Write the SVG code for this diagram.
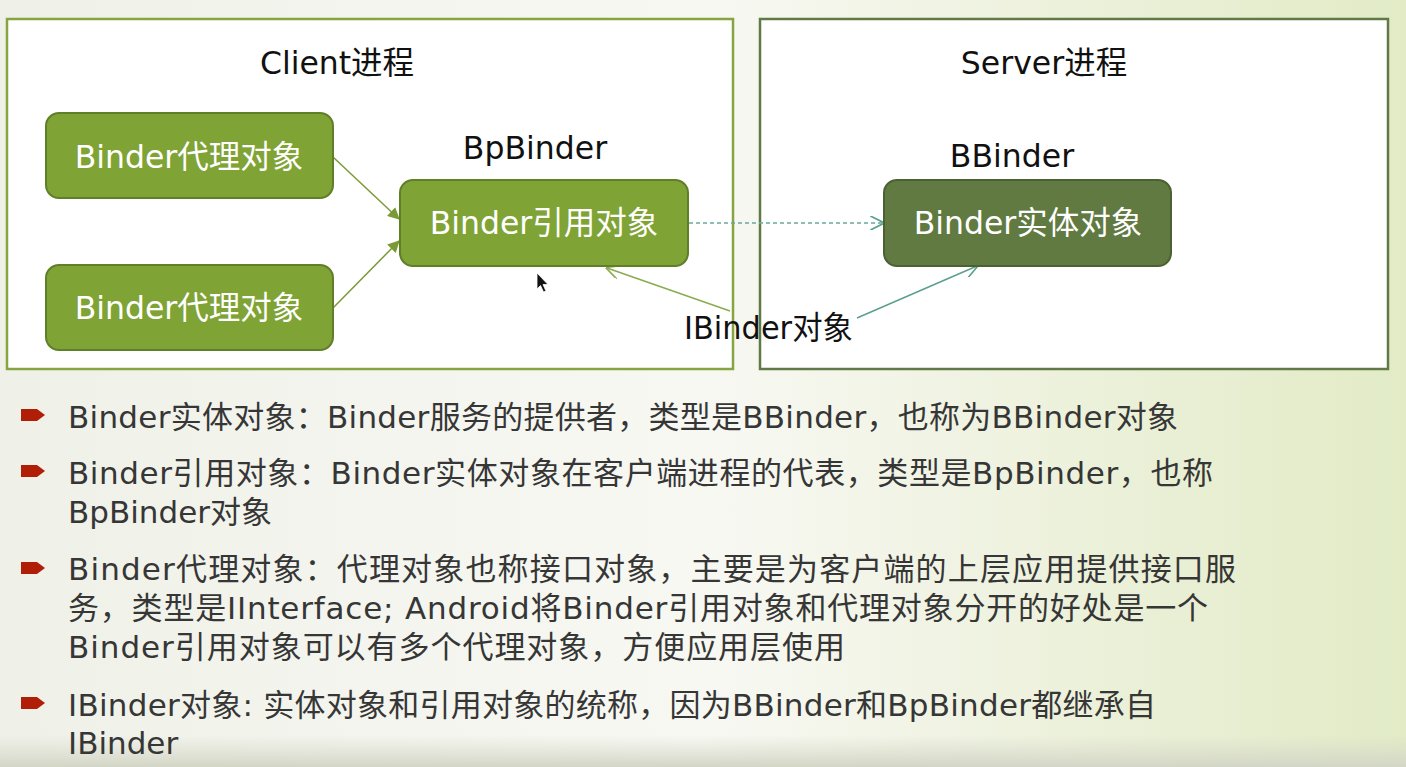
<svg xmlns="http://www.w3.org/2000/svg" width="1406" height="767" viewBox="0 0 1406 767">
  <defs>
    <linearGradient id="bg" x1="0" y1="0" x2="1" y2="0">
      <stop offset="0" stop-color="#eff1e8"/>
      <stop offset="0.5" stop-color="#f8f8f3"/>
      <stop offset="1" stop-color="#e2ebc6"/>
    </linearGradient>
    <linearGradient id="bottom" x1="0" y1="0" x2="0" y2="1">
      <stop offset="0" stop-color="#d8dbcb" stop-opacity="0"/>
      <stop offset="1" stop-color="#d3d6c6" stop-opacity="1"/>
    </linearGradient>
    <marker id="fillOlive" viewBox="0 0 10 10" refX="9" refY="5" markerWidth="12" markerHeight="12" markerUnits="userSpaceOnUse" orient="auto">
      <path d="M0,0 L10,5 L0,10 Z" fill="#7a9a36"/>
    </marker>
    <marker id="openOlive" viewBox="0 0 10 10" refX="9" refY="5" markerWidth="14" markerHeight="14" markerUnits="userSpaceOnUse" orient="auto">
      <path d="M0,0 L10,5 L0,10" fill="none" stroke="#8aab4e" stroke-width="1.2"/>
    </marker>
    <marker id="openTeal" viewBox="0 0 10 10" refX="9" refY="5" markerWidth="14" markerHeight="14" markerUnits="userSpaceOnUse" orient="auto">
      <path d="M0,0 L10,5 L0,10" fill="none" stroke="#5aa08f" stroke-width="1.2"/>
    </marker>
  </defs>
  <style>
    .lat { font-family: "DejaVu Sans", "Noto Sans CJK SC", sans-serif; }
    .title { font-size: 31.5px; fill: #111111; }
    .node-text { font-size: 31.5px; fill: #ffffff; text-anchor: middle; }
    .node { fill: #80a336; stroke: #5f7f28; stroke-width: 2; }
    .node-dark { fill: #617a41; stroke: #4b6132; stroke-width: 2; }
    .bullet-text { font-size: 31px; fill: #363636; }
    .bullet { fill: #b01e08; }
    .conn { fill: none; stroke-width: 1.5; }
  </style>

  <rect x="0" y="0" width="1406" height="767" fill="url(#bg)"/>
  <rect x="0" y="735" width="1406" height="32" fill="url(#bottom)"/>

  <!-- process containers -->
  <g id="client-process">
    <rect x="7" y="19" width="726" height="350" fill="#ffffff" stroke="#86a540" stroke-width="2.5"/>
    <text class="lat title" x="337" y="74" text-anchor="middle">Client进程</text>
  </g>
  <g id="server-process">
    <rect x="760" y="19" width="628" height="350" fill="#ffffff" stroke="#617a45" stroke-width="2.5"/>
    <text class="lat title" x="1044" y="74" text-anchor="middle">Server进程</text>
  </g>

  <!-- connectors -->
  <g id="connectors">
    <line class="conn" x1="333" y1="157" x2="399" y2="219" stroke="#7a9a36" marker-end="url(#fillOlive)"/>
    <line class="conn" x1="333" y1="308" x2="399" y2="241" stroke="#7a9a36" marker-end="url(#fillOlive)"/>
    <line class="conn" x1="689" y1="223" x2="883" y2="223" stroke="#6aa89c" stroke-dasharray="4,3" marker-end="url(#openTeal)"/>
    <line class="conn" x1="730" y1="311" x2="607" y2="268" stroke="#8aab4e" marker-end="url(#openOlive)"/>
    <line class="conn" x1="857" y1="318" x2="977" y2="266" stroke="#5aa08f" marker-end="url(#openTeal)"/>
  </g>

  <!-- nodes -->
  <g id="proxy1">
    <rect class="node" x="46" y="113" width="287" height="85" rx="13"/>
    <text class="lat node-text" x="189" y="168">Binder代理对象</text>
  </g>
  <g id="proxy2">
    <rect class="node" x="46" y="265" width="287" height="85" rx="13"/>
    <text class="lat node-text" x="189" y="319">Binder代理对象</text>
  </g>
  <g id="reference">
    <text class="lat title" x="535" y="159" text-anchor="middle">BpBinder</text>
    <rect class="node" x="400" y="180" width="288" height="86" rx="13"/>
    <text class="lat node-text" x="544" y="234">Binder引用对象</text>
  </g>
  <g id="entity">
    <text class="lat title" x="1012" y="167" text-anchor="middle">BBinder</text>
    <rect class="node-dark" x="884" y="180" width="287" height="86" rx="13"/>
    <text class="lat node-text" x="1028" y="234">Binder实体对象</text>
  </g>
  <g id="ibinder-label">
    <text class="lat title" x="684" y="339" textLength="169" lengthAdjust="spacingAndGlyphs">IBinder对象</text>
  </g>

  <!-- mouse cursor -->
  <path d="M537,273 L537,289 L540.5,285.5 L543.5,292 L546,291 L543,284.5 L548,284.5 Z" fill="#111111" stroke="#ffffff" stroke-width="0.8"/>

  <!-- bullet list -->
  <g id="bullets">
    <path class="bullet" d="M21,409 L37,409 L45,415 L37,421 L21,421 Z"/>
    <path class="bullet" d="M21,465 L37,465 L45,471 L37,477 L21,477 Z"/>
    <path class="bullet" d="M21,562 L37,562 L45,568 L37,574 L21,574 Z"/>
    <path class="bullet" d="M21,697 L37,697 L45,703 L37,709 L21,709 Z"/>

    <text class="lat bullet-text" x="68" y="428" textLength="1110" lengthAdjust="spacing">Binder实体对象：Binder服务的提供者，类型是BBinder，也称为BBinder对象</text>
    <text class="lat bullet-text" x="68" y="484" textLength="1145" lengthAdjust="spacing">Binder引用对象：Binder实体对象在客户端进程的代表，类型是BpBinder，也称</text>
    <text class="lat bullet-text" x="68" y="523">BpBinder对象</text>
    <text class="lat bullet-text" x="68" y="580" textLength="1168" lengthAdjust="spacing">Binder代理对象：代理对象也称接口对象，主要是为客户端的上层应用提供接口服</text>
    <text class="lat bullet-text" x="68" y="619" textLength="1140" lengthAdjust="spacing">务，类型是IInterface; Android将Binder引用对象和代理对象分开的好处是一个</text>
    <text class="lat bullet-text" x="68" y="658" textLength="777" lengthAdjust="spacing">Binder引用对象可以有多个代理对象，方便应用层使用</text>
    <text class="lat bullet-text" x="68" y="716" textLength="1088" lengthAdjust="spacing">IBinder对象: 实体对象和引用对象的统称，因为BBinder和BpBinder都继承自</text>
    <text class="lat bullet-text" x="68" y="754">IBinder</text>
  </g>
</svg>
